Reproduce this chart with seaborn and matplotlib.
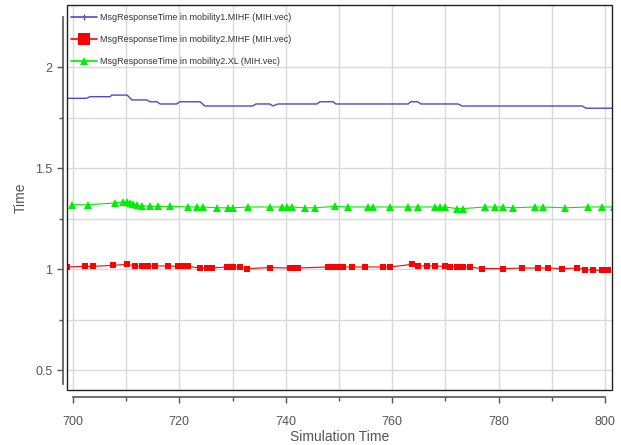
import numpy as np
import pandas as pd
import matplotlib
matplotlib.use('Agg')
import matplotlib.pyplot as plt
from matplotlib.lines import Line2D
from matplotlib.patches import Rectangle
import seaborn as sns

# Series
blue_x = [698.5, 702.6, 703.2, 707.0, 707.3, 710.2, 711.1, 713.9, 714.5, 715.8,
          716.4, 719.5, 720.1, 723.9, 724.8, 733.8, 734.4, 737.0, 737.6, 738.5,
          745.9, 746.4, 748.9, 749.4, 763.0, 763.5, 764.8, 765.4, 772.4, 773.1,
          795.7, 796.4, 801.5]
blue_y = [1.845, 1.845, 1.853, 1.853, 1.861, 1.861, 1.837, 1.837, 1.828, 1.828,
          1.817, 1.817, 1.828, 1.828, 1.807, 1.807, 1.817, 1.817, 1.807, 1.817,
          1.817, 1.828, 1.828, 1.817, 1.817, 1.828, 1.828, 1.817, 1.817, 1.807,
          1.807, 1.796, 1.796]

green_x = [699.8, 702.8, 707.9, 709.4, 710.2, 710.7, 711.3, 712.0, 713.0, 714.5,
           716.0, 718.2, 721.6, 723.3, 724.4, 727.1, 729.1, 730.1, 732.9, 737.0,
           739.3, 740.2, 741.2, 743.6, 745.5, 749.2, 751.7, 755.5, 756.4, 759.6,
           763.0, 764.8, 768.0, 769.0, 769.9, 772.2, 773.3, 777.4, 779.3, 780.8,
           782.7, 786.8, 788.3, 792.5, 796.8, 799.4, 801.6]
green_y = [1.318, 1.318, 1.327, 1.332, 1.330, 1.327, 1.322, 1.318, 1.313, 1.310,
           1.310, 1.310, 1.307, 1.307, 1.307, 1.303, 1.303, 1.303, 1.307, 1.307,
           1.307, 1.307, 1.307, 1.303, 1.303, 1.310, 1.307, 1.307, 1.307, 1.307,
           1.307, 1.307, 1.307, 1.307, 1.307, 1.299, 1.299, 1.307, 1.307, 1.307,
           1.303, 1.307, 1.307, 1.303, 1.307, 1.307, 1.307]

red_x = [698.9, 702.3, 703.8, 707.5, 710.2, 711.7, 713.0, 714.1, 715.4, 717.9,
         719.7, 720.7, 721.6, 723.9, 725.2, 726.1, 728.9, 730.1, 731.4, 732.7,
         737.0, 740.8, 741.7, 742.3, 747.9, 748.9, 749.8, 750.8, 752.4, 754.9,
         758.3, 759.6, 763.7, 764.8, 766.5, 768.0, 769.9, 770.9, 772.2, 773.3,
         774.6, 776.9, 780.8, 784.4, 787.4, 789.3, 791.9, 794.7, 796.2, 797.7,
         799.4, 800.6]
red_y = [1.010, 1.013, 1.013, 1.018, 1.023, 1.015, 1.015, 1.015, 1.015, 1.015,
         1.013, 1.013, 1.013, 1.005, 1.005, 1.005, 1.010, 1.010, 1.010, 1.002,
         1.007, 1.005, 1.005, 1.005, 1.010, 1.010, 1.010, 1.010, 1.010, 1.010,
         1.010, 1.010, 1.023, 1.015, 1.015, 1.015, 1.013, 1.012, 1.010, 1.010,
         1.010, 1.002, 1.002, 1.005, 1.005, 1.005, 1.002, 1.005, 0.997, 0.995,
         0.993, 0.993]

labels = ['MsgResponseTime in mobility1.MIHF (MIH.vec)',
          'MsgResponseTime in mobility2.MIHF (MIH.vec)',
          'MsgResponseTime in mobility2.XL (MIH.vec)']
colors = ['#4a4ad0', '#ff0000', '#00ee00']

sns.set_style('whitegrid')
plt.rcParams['font.family'] = ['Liberation Sans', 'DejaVu Sans']

fig = plt.figure(figsize=(6.21, 4.45), dpi=100)
ax = fig.add_axes([67 / 621, 55 / 445, 545 / 621, 385 / 445])

blue = pd.DataFrame({'x': blue_x, 'y': blue_y})
red = pd.DataFrame({'x': red_x, 'y': red_y})
green = pd.DataFrame({'x': green_x, 'y': green_y})

sns.lineplot(data=blue, x='x', y='y', ax=ax, color=colors[0], lw=1.0,
             sort=False, estimator=None)
sns.lineplot(data=red, x='x', y='y', ax=ax, color=colors[1], lw=0.8,
             marker='s', markersize=5, markeredgewidth=0,
             sort=False, estimator=None)
sns.lineplot(data=green, x='x', y='y', ax=ax, color=colors[2], lw=0.8,
             marker='^', markersize=5.2, markeredgewidth=0,
             sort=False, estimator=None)

ax.set_xlim(698.9, 801.3)
ax.set_ylim(0.401, 2.307)
ax.set_xticks(np.arange(700, 801, 20))
ax.set_xticks(np.arange(710, 800, 20), minor=True)
ax.set_yticks([0.5, 1, 1.5, 2])
ax.set_yticklabels(['0.5', '1', '1.5', '2'])
ax.set_yticks([0.75, 1.25, 1.75], minor=True)
ax.grid(which='both', color='#d9d9d9', lw=1.0)
ax.set_axisbelow(True)

ax.tick_params(which='both', direction='out', color='#555555',
               labelcolor='#555555', labelsize=9, left=True, bottom=True)
ax.tick_params(which='major', length=4.5, width=1)
ax.tick_params(which='minor', length=3, width=1)
ax.tick_params(axis='x', which='major', pad=9)
ax.tick_params(axis='y', which='major', pad=3)

for s in ['top', 'right']:
    ax.spines[s].set_visible(False)
ax.spines['left'].set_position(('outward', 3))
ax.spines['left'].set_bounds(0.43, 2.25)
ax.spines['bottom'].set_position(('outward', 5))
ax.spines['bottom'].set_bounds(700, 800)
for s in ['left', 'bottom']:
    ax.spines[s].set_color('#555555')
    ax.spines[s].set_linewidth(1.2)

ax.add_patch(Rectangle((0, 0), 1, 1, transform=ax.transAxes, fill=False,
                       ec='#222222', lw=1.0, clip_on=False, zorder=5))

ax.set_xlabel('Simulation Time', fontsize=10, color='#555555', labelpad=2)
ax.set_ylabel('Time', fontsize=10, color='#555555', labelpad=5)

handles = [
    Line2D([], [], color=colors[0], lw=1.2, marker='|', markersize=4,
           markevery=[1], markeredgewidth=1),
    Line2D([], [], color=colors[1], lw=1.2, marker='s', markersize=8,
           markeredgewidth=0),
    Line2D([], [], color=colors[2], lw=1.2, marker='^', markersize=6,
           markeredgewidth=0),
]
ax.legend(handles, labels, loc='upper left', bbox_to_anchor=(-0.006, 1.0),
          frameon=False, fontsize=6.5,
          handlelength=2.8, labelspacing=1.45, borderaxespad=0.55,
          borderpad=0.3, handletextpad=0.4, labelcolor='#333333')

fig.savefig('out.png', dpi=100)
